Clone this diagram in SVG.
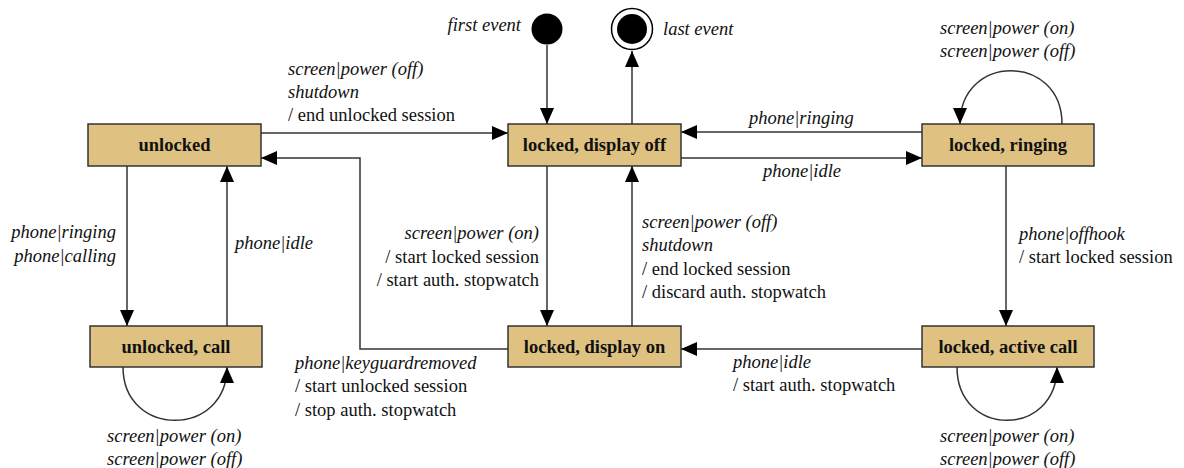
<svg xmlns="http://www.w3.org/2000/svg" width="1184" height="468" viewBox="0 0 1184 468">
<defs>
<style>
.node rect{fill:#dfc282;stroke:#333;stroke-width:1.5}
.node text{font-family:"Liberation Serif",serif;font-weight:bold;font-size:18.5px;fill:#111;text-anchor:middle}
.conn path{fill:none;stroke:#333;stroke-width:1.5;marker-end:url(#ah)}
.lbl{font-family:"Liberation Serif",serif;font-size:18.5px;fill:#111}
.ev{font-style:italic}
.end{text-anchor:end}
.mid{text-anchor:middle}
</style>
<marker id="ah" markerWidth="17" markerHeight="14" refX="16" refY="7" orient="auto" markerUnits="userSpaceOnUse">
<path d="M0,0 L16,7 L0,14 z" fill="#000"/>
</marker>
</defs>
<rect width="1184" height="468" fill="#fff"/>

<g id="connectors" class="conn">
<path d="M547,45 L547,124"/>
<path d="M632,124 L632,51"/>
<path d="M261,133 L508,133"/>
<path d="M508,349 L360,349 L360,158 L261,158"/>
<path d="M922,132 L681,132"/>
<path d="M681,158 L922,158"/>
<path d="M1062,124 C1062,53 960,53 960,124"/>
<path d="M1006,166 L1006,326"/>
<path d="M922,349 L681,349"/>
<path d="M547,166 L547,326"/>
<path d="M632,326 L632,166"/>
<path d="M127,166 L127,326"/>
<path d="M227,326 L227,166"/>
<path d="M123,367 C123,438 227,438 227,367"/>
<path d="M957,367 C957,438 1057,438 1057,367"/>
</g>

<g id="initial"><circle cx="547" cy="29" r="15.5" fill="#000"/></g>
<g id="final"><circle cx="632" cy="29" r="20.5" fill="#fff" stroke="#000" stroke-width="1.5"/><circle cx="632" cy="29" r="15" fill="#000"/></g>

<g id="unlocked" class="node"><rect x="88" y="124" width="173" height="42"/><text x="174.5" y="151">unlocked</text></g>
<g id="locked-display-off" class="node"><rect x="508" y="124" width="173" height="42"/><text x="594.5" y="151">locked, display off</text></g>
<g id="locked-ringing" class="node"><rect x="922" y="124" width="172" height="42"/><text x="1008" y="151">locked, ringing</text></g>
<g id="unlocked-call" class="node"><rect x="90" y="326" width="172" height="41"/><text x="176" y="353">unlocked, call</text></g>
<g id="locked-display-on" class="node"><rect x="508" y="326" width="173" height="41"/><text x="594.5" y="353">locked, display on</text></g>
<g id="locked-active-call" class="node"><rect x="922" y="326" width="172" height="41"/><text x="1008" y="353">locked, active call</text></g>

<g id="labels" class="lbl">
<text class="ev end" x="521" y="31">first event</text>
<text class="ev" x="663" y="35">last event</text>
<text class="ev" x="288" y="75">screen|power (off)</text>
<text class="ev" x="288" y="98">shutdown</text>
<text x="288" y="121">/ end unlocked session</text>
<text class="ev" x="749" y="124">phone|ringing</text>
<text class="ev" x="763" y="177">phone|idle</text>
<text class="ev" x="940" y="34">screen|power (on)</text>
<text class="ev" x="940" y="57">screen|power (off)</text>
<text class="ev end" x="116" y="238">phone|ringing</text>
<text class="ev end" x="116" y="262">phone|calling</text>
<text class="ev" x="235" y="249">phone|idle</text>
<text class="ev end" x="539" y="239">screen|power (on)</text>
<text class="end" x="539" y="263">/ start locked session</text>
<text class="end" x="539" y="286">/ start auth. stopwatch</text>
<text class="ev" x="642" y="228">screen|power (off)</text>
<text class="ev" x="642" y="251">shutdown</text>
<text x="642" y="275">/ end locked session</text>
<text x="642" y="298">/ discard auth. stopwatch</text>
<text class="ev" x="295" y="369">phone|keyguardremoved</text>
<text x="295" y="392">/ start unlocked session</text>
<text x="295" y="416">/ stop auth. stopwatch</text>
<text class="ev" x="107" y="442">screen|power (on)</text>
<text class="ev" x="107" y="465">screen|power (off)</text>
<text class="ev" x="1019" y="240">phone|offhook</text>
<text x="1019" y="263">/ start locked session</text>
<text class="ev" x="733" y="368">phone|idle</text>
<text x="733" y="391">/ start auth. stopwatch</text>
<text class="ev" x="940" y="442">screen|power (on)</text>
<text class="ev" x="940" y="465">screen|power (off)</text>
</g>
</svg>
